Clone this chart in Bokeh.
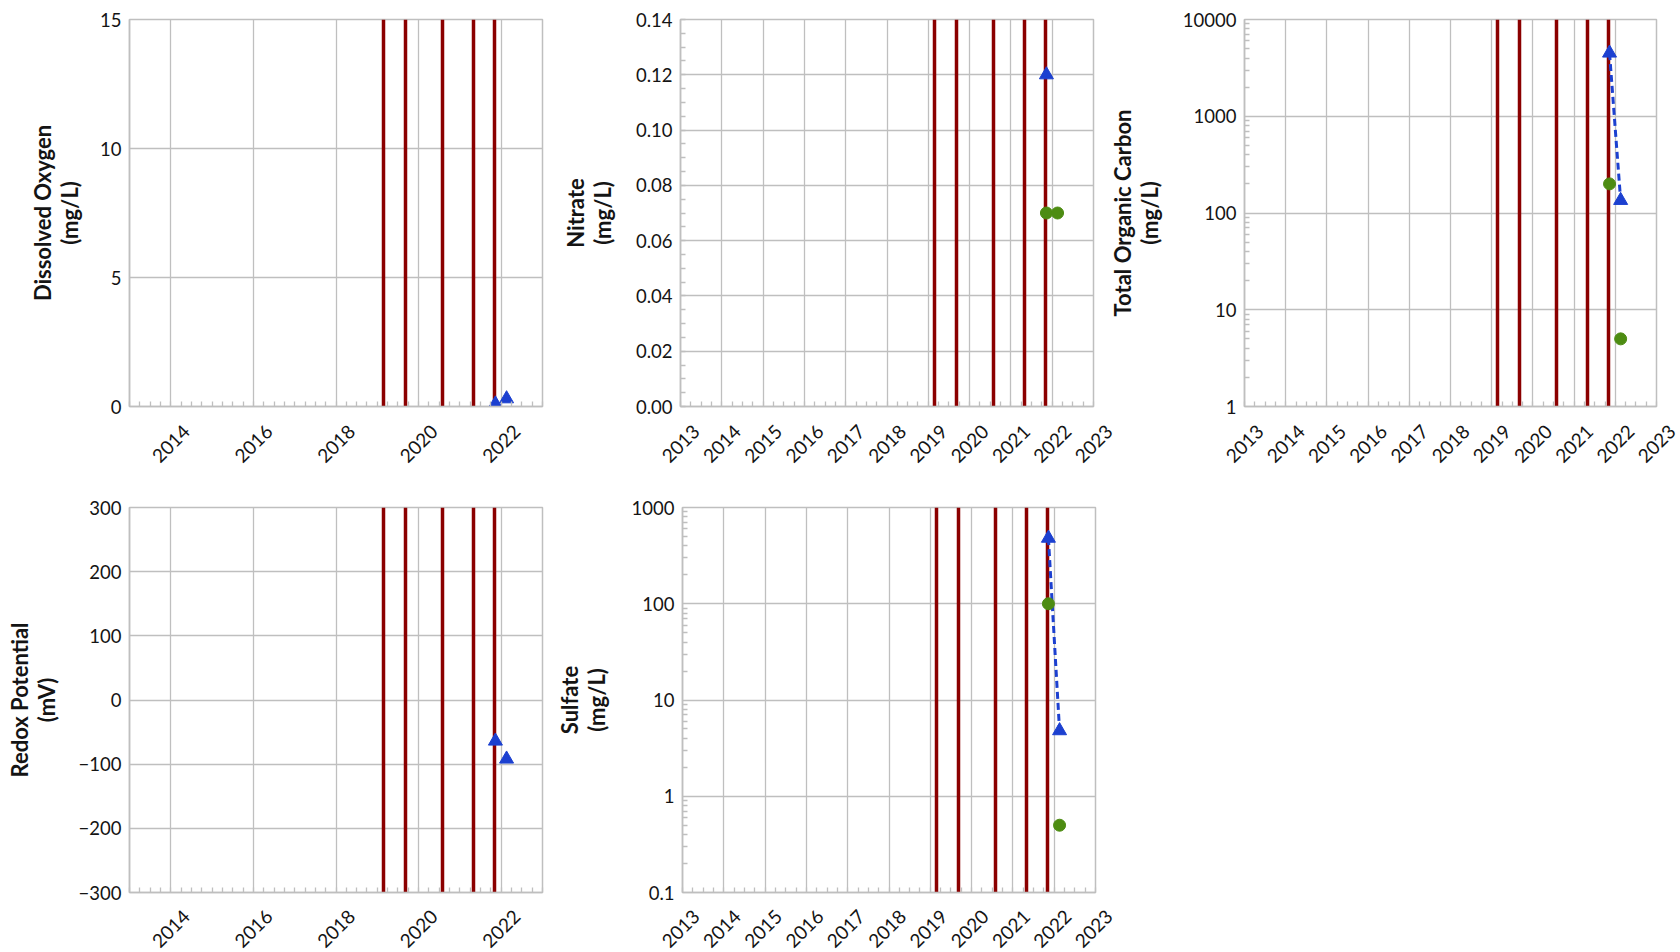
import numpy as np
import math
from bokeh.plotting import figure
from bokeh.layouts import column, row
from bokeh.models import FixedTicker, Range1d, CustomJSTickFormatter
from bokeh.core.properties import value
from bokeh.embed import file_html
from bokeh.resources import INLINE

# ---------------- data ----------------
event_years = [2019.15, 2019.68, 2020.58, 2021.33, 2021.84]   # dark red vertical lines
sample_years = [2021.86, 2022.13]

do_blue = [0.1, 0.3]
nitrate_blue_years = [2021.86]
nitrate_blue = [0.12]
nitrate_green = [0.07, 0.07]
toc_blue = [4500, 135]
toc_green = [200, 5]
redox_blue = [-64, -92]
sulfate_blue = [480, 4.8]
sulfate_green = [100, 0.5]

years_all = [2013, 2014, 2015, 2016, 2017, 2018, 2019, 2020, 2021, 2022, 2023]
years_even = [2014, 2016, 2018, 2020, 2022]
X_START, X_END = 2013, 2023

do_ticks = [0, 5, 10, 15]
do_labels = ["0", "5", "10", "15"]
nitrate_ticks = [0, 0.02, 0.04, 0.06, 0.08, 0.10, 0.12, 0.14]
nitrate_labels = ["0.00", "0.02", "0.04", "0.06", "0.08", "0.10", "0.12", "0.14"]
toc_ticks = [1, 10, 100, 1000, 10000]
toc_labels = ["1", "10", "100", "1000", "10000"]
redox_ticks = [-300, -200, -100, 0, 100, 200, 300]
redox_labels = ["\u2212300", "\u2212200", "\u2212100", "0", "100", "200", "300"]
sulfate_ticks = [0.1, 1, 10, 100, 1000]
sulfate_labels = ["0.1", "1", "10", "100", "1000"]

# ---------------- style ----------------
GRAY = "#bfbfbf"
RED = "#8b0000"
BLUE = "#1c40d0"
GREEN = "#4d8c12"
TXT = "#141414"
FONT = "Lato"
TICK_SIZE = "18.5px"
YEAR_SIZE = "19px"

quarter_minor = list(np.arange(X_START, X_END + 0.001, 0.25))


def log_minor(lo_exp, hi_exp):
    out = []
    for e in range(lo_exp, hi_exp):
        for m in range(2, 10):
            out.append(m * 10.0 ** e)
    return out


def fmt(tvals, tlabels):
    return CustomJSTickFormatter(args=dict(tvals=tvals, tlabels=tlabels), code="""
        for (let i = 0; i < tvals.length; i++) {
            const t = tvals[i];
            if (Math.abs(t - tick) <= 1e-9 * Math.max(1, Math.abs(t))) { return tlabels[i]; }
        }
        return "";
    """)


def make_fig(y_label, y_type, y_start, y_end, y_ticks, y_labels, y_minor, x_ticks,
             left, top, right, bottom, frame_h, label_standoff, frame_w=413):
    p = figure(frame_width=frame_w, frame_height=frame_h,
               min_border_left=left, min_border_top=top,
               min_border_right=right, min_border_bottom=bottom,
               x_range=Range1d(X_START, X_END), y_range=Range1d(y_start, y_end),
               y_axis_type=y_type, output_backend="svg", toolbar_location=None,
               title=None)
    p.background_fill_color = "white"
    p.border_fill_color = "white"
    p.outline_line_color = GRAY
    p.outline_line_width = 1.5
    p.xgrid.grid_line_color = GRAY
    p.xgrid.grid_line_width = 1.3
    p.ygrid.grid_line_color = GRAY
    p.ygrid.grid_line_width = 1.3

    p.xaxis.ticker = FixedTicker(ticks=x_ticks, minor_ticks=quarter_minor)
    p.xaxis.formatter = CustomJSTickFormatter(code="return '';")
    p.yaxis.ticker = FixedTicker(ticks=y_ticks, minor_ticks=y_minor)
    p.yaxis.formatter = fmt(y_ticks, y_labels)

    for ax in p.axis:
        ax.axis_line_color = GRAY
        ax.axis_line_width = 1.5
        ax.major_tick_in = 0
        ax.major_tick_out = 0
        ax.minor_tick_in = 5
        ax.minor_tick_out = 0
        ax.minor_tick_line_color = GRAY
        ax.minor_tick_line_width = 1.3
        ax.major_label_text_font = FONT
        ax.major_label_text_font_size = TICK_SIZE
        ax.major_label_text_color = TXT
    p.xaxis.major_label_text_font_size = "0px"
    p.xaxis.major_label_standoff = 0
    p.yaxis.major_label_standoff = 8
    p.yaxis.axis_label = y_label
    p.yaxis.axis_label_text_font = FONT
    p.yaxis.axis_label_text_font_style = "bold"
    p.yaxis.axis_label_text_font_size = "22px"
    p.yaxis.axis_label_text_line_height = 1.0
    p.yaxis.axis_label_text_color = TXT
    p.yaxis.axis_label_standoff = label_standoff

    p.vspan(x=event_years, line_color=RED, line_width=3.5)
    return p


def label_strip(x_ticks, fig_left, fig_right, frame_left, frame_w, height, text_y):
    """Strip under a chart carrying its rotated year labels, on the chart's own x scale."""
    ypp = (X_END - X_START) / frame_w
    xs = X_START - (frame_left - fig_left) * ypp
    xe = X_END + (fig_right - frame_left - frame_w) * ypp
    lf = figure(width=fig_right - fig_left, height=height, min_border=0,
                x_range=Range1d(xs, xe), y_range=Range1d(-height, 0),
                x_axis_location=None, y_axis_location=None,
                output_backend="svg", toolbar_location=None, title=None)
    lf.outline_line_color = None
    lf.background_fill_color = "white"
    lf.border_fill_color = "white"
    lf.grid.visible = False
    lf.text(x=x_ticks, y=[text_y] * len(x_ticks), text=[str(v) for v in x_ticks],
            angle=math.pi / 4, text_align="center", text_baseline="middle",
            text_font=value(FONT), text_font_size=value(YEAR_SIZE), text_color=TXT)
    return lf


def add_blue(p, xs, ys, dashed):
    if dashed:
        p.line(xs, ys, line_color=BLUE, line_width=3, line_dash="7 4")
    p.scatter(xs, ys, marker="triangle", size=14, fill_color=BLUE, line_color=BLUE)


def add_green(p, xs, ys):
    p.scatter(xs, ys, marker="circle", size=12, fill_color=GREEN, line_color=GREEN)


nitrate_minor = list(np.arange(0, 0.1401, 0.005))
BOTTOM = 12

# Row 1 charts (frames at y 19..406)
p1 = make_fig("Dissolved Oxygen\n(mg/L)", "linear", 0, 15, do_ticks, do_labels, [],
              years_even, 129, 19, 10, BOTTOM, 387, 14)
add_blue(p1, sample_years, do_blue, False)

p2 = make_fig("Nitrate\n(mg/L)", "linear", 0, 0.14, nitrate_ticks, nitrate_labels, nitrate_minor,
              years_all, 128, 19, 10, BOTTOM, 387, 17)
add_blue(p2, nitrate_blue_years, nitrate_blue, False)
add_green(p2, sample_years, nitrate_green)

p3 = make_fig("Total Organic Carbon\n(mg/L)", "log", 1, 10000, toc_ticks, toc_labels, log_minor(0, 4),
              years_all, 141, 19, 24, BOTTOM, 387, 17, frame_w=412)
add_blue(p3, sample_years, toc_blue, True)
add_green(p3, sample_years, toc_green)

# Row 1 year labels (strip spans y 418..474)
l1 = label_strip(years_even, 0, 560, 129, 413, 56, -25)
l2 = label_strip(years_all, 560, 1125, 680, 413, 56, -25)
l3 = label_strip(years_all, 1125, 1680, 1244, 412, 56, -25)

# Row 2 charts (frames at y 507..892)
p4 = make_fig("Redox Potential\n(mV)", "linear", -300, 300, redox_ticks, redox_labels, [],
              years_even, 129, 33, 10, BOTTOM, 385, 16)
add_blue(p4, sample_years, redox_blue, False)

p5 = make_fig("Sulfate\n(mg/L)", "log", 0.1, 1000, sulfate_ticks, sulfate_labels, log_minor(-1, 3),
              years_all, 128, 33, 10, BOTTOM, 385, 19)
add_blue(p5, sample_years, sulfate_blue, True)
add_green(p5, sample_years, sulfate_green)

# Row 2 year labels (strip spans y 904..952)
l4 = label_strip(years_even, 0, 560, 129, 413, 48, -24)
l5 = label_strip(years_all, 560, 1125, 680, 413, 48, -24)

layout = column(row(p1, p2, p3, spacing=0), row(l1, l2, l3, spacing=0),
                row(p4, p5, spacing=0), row(l4, l5, spacing=0), spacing=0)

open("out.html", "w").write(file_html(layout, INLINE))
